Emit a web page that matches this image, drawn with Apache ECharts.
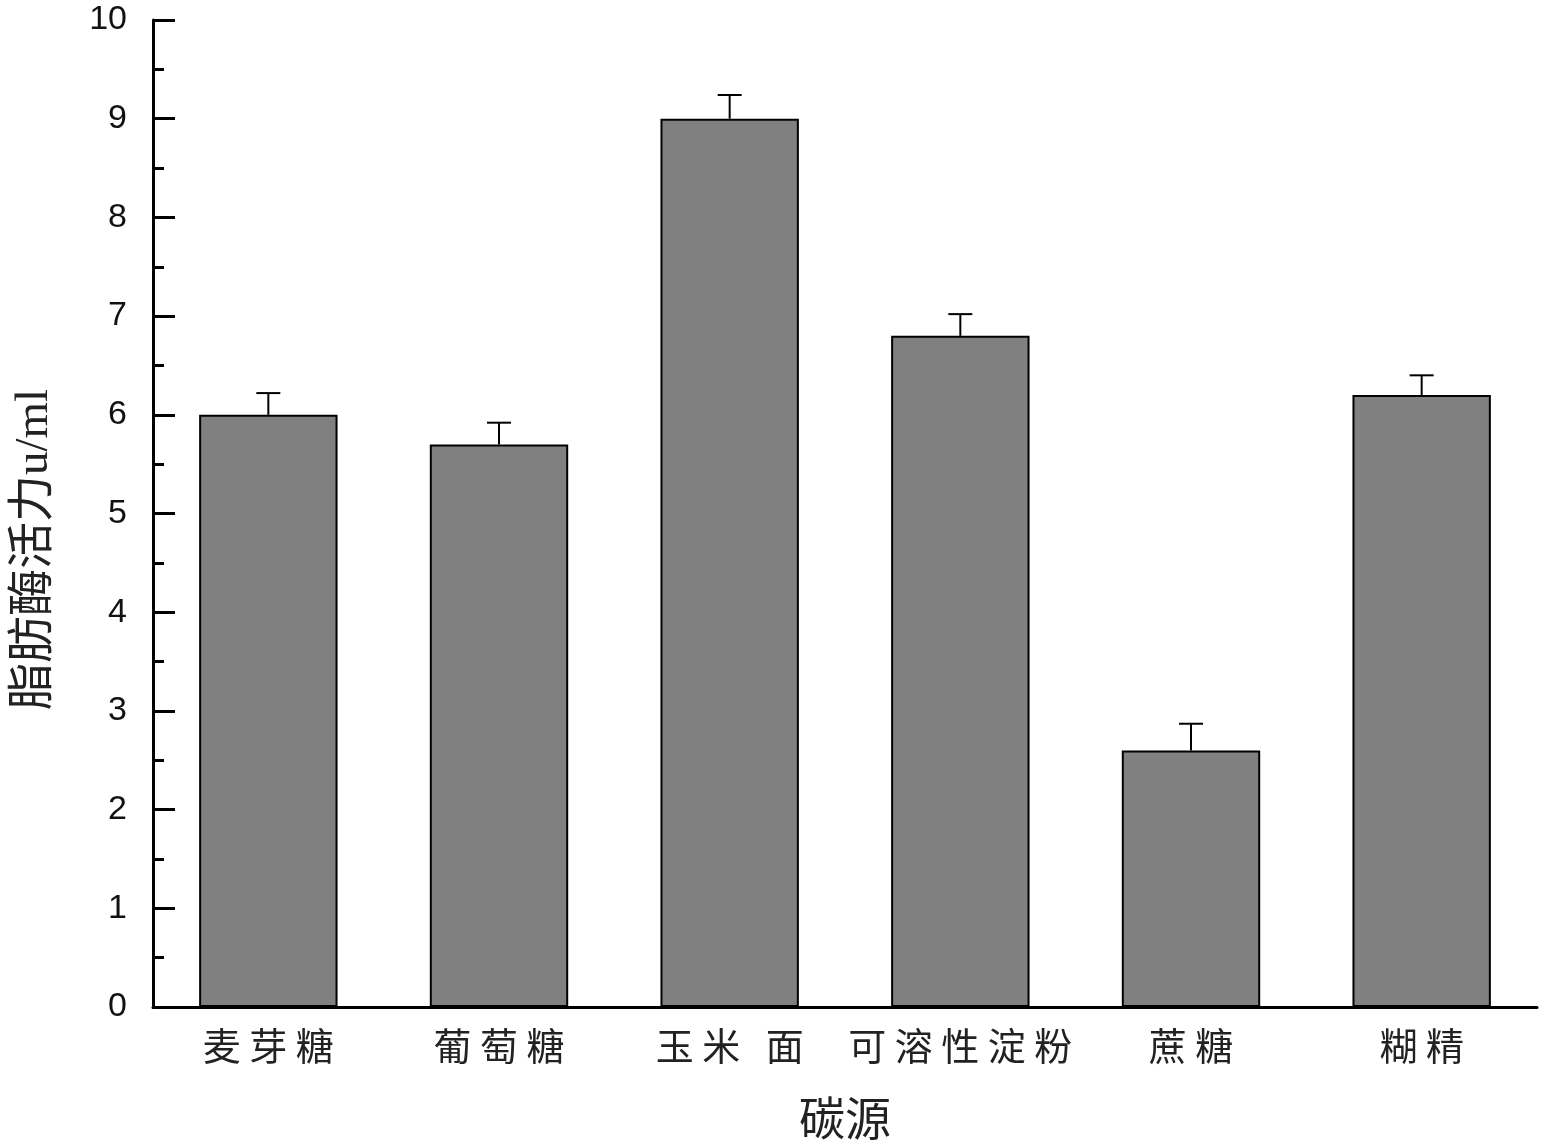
<!DOCTYPE html>
<html>
<head>
<meta charset="utf-8">
<script src="https://cdn.jsdelivr.net/npm/echarts@6/dist/echarts.min.js"></script>
<style>html,body{margin:0;padding:0;background:#fff;overflow:hidden}#c{width:1541px;height:1146px}</style>
</head>
<body>
<div id="c"></div>
<script>
var categories = ['麦 芽 糖', '葡 萄 糖', '玉 米   面', '可 溶 性 淀 粉', '蔗 糖', '糊 精'];
var values = [6.0, 5.7, 9.0, 6.8, 2.6, 6.2];
var errors = [0.22, 0.22, 0.24, 0.22, 0.27, 0.2];
var yTicks = [0, 1, 2, 3, 4, 5, 6, 7, 8, 9, 10];

var chart = echarts.init(document.getElementById('c'));
var cjk = '"Noto Sans CJK SC", sans-serif';
chart.setOption({
  animation: false,
  backgroundColor: '#fff',
  grid: { left: 153, right: 4, top: 20, height: 995 },
  xAxis: {
    type: 'category',
    data: categories,
    name: '碳源',
    nameLocation: 'middle',
    nameGap: 88,
    nameTextStyle: { fontFamily: cjk, fontSize: 46, color: '#222' },
    axisLine: { lineStyle: { color: '#000', width: 3 } },
    axisTick: { show: false },
    axisLabel: { fontFamily: cjk, fontSize: 38, color: '#222', margin: 20, interval: 0 }
  },
  yAxis: {
    type: 'value',
    min: 0, max: 10, interval: 1,
    name: '脂肪酶活力u/ml',
    nameLocation: 'middle',
    nameRotate: 90,
    nameGap: 95,
    nameTextStyle: { fontFamily: '"Liberation Serif", "Noto Sans CJK SC", serif', fontSize: 47, color: '#222', padding: [0, 72, 0, 0] },
    axisLine: { show: true, lineStyle: { color: '#000', width: 3 } },
    axisTick: { show: true, inside: true, length: 22, lineStyle: { color: '#000', width: 3 } },
    minorTick: { show: true, splitNumber: 2, length: 11, lineStyle: { color: '#000', width: 3 } },
    splitLine: { show: false },
    axisLabel: {
      fontFamily: 'Liberation Sans, Arial, sans-serif', fontSize: 34, color: '#111', margin: 26,
      formatter: function (v) { return yTicks.indexOf(v) >= 0 ? String(v) : ''; }
    }
  },
  series: [
    {
      type: 'bar',
      data: values,
      barWidth: '60%',
      itemStyle: { color: '#808080', borderColor: '#000', borderWidth: 2 },
      z: 2
    },
    {
      type: 'custom',
      z: 3,
      data: values.map(function (v, i) { return [i, v, v + errors[i]]; }),
      renderItem: function (params, api) {
        var base = api.coord([api.value(0), api.value(1)]);
        var top = api.coord([api.value(0), api.value(2)]);
        var hw = 12;
        return {
          type: 'group',
          children: [
            { type: 'line', shape: { x1: base[0], y1: base[1], x2: top[0], y2: top[1] }, style: { stroke: '#000', lineWidth: 2 } },
            { type: 'line', shape: { x1: top[0] - hw, y1: top[1], x2: top[0] + hw, y2: top[1] }, style: { stroke: '#000', lineWidth: 2 } }
          ]
        };
      }
    }
  ]
});
</script>
</body>
</html>
